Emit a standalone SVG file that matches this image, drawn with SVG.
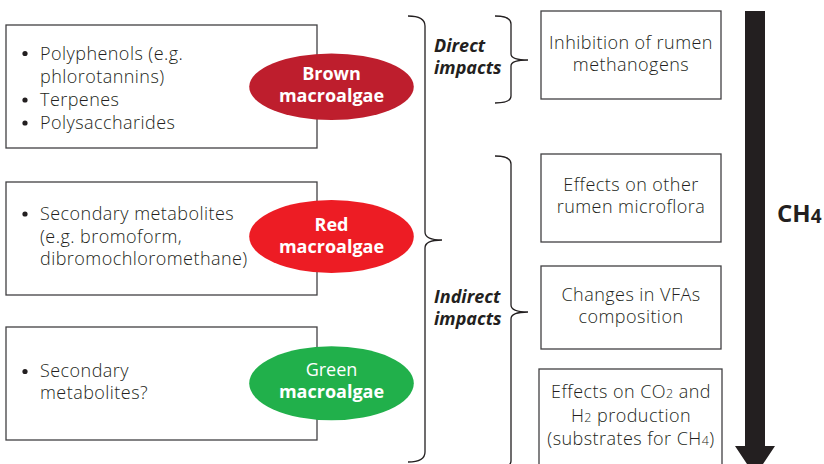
<svg xmlns="http://www.w3.org/2000/svg" width="824" height="464" viewBox="0 0 824 464">
<style>
.box{fill:#fff;stroke:#414042;stroke-width:1.3}
.t{font-family:"Open Sans","Liberation Sans",sans-serif;font-size:18px;font-weight:300;letter-spacing:0.45px;fill:#231f20}
.c{text-anchor:middle}
.w{font-family:"Open Sans","Liberation Sans",sans-serif;font-size:18px;fill:#fff;text-anchor:middle}
.b{font-weight:bold}
.bi{font-family:"Open Sans","Liberation Sans",sans-serif;font-size:18px;fill:#231f20;font-weight:bold;font-style:italic}
.br{fill:none;stroke:#231f20;stroke-width:1.3}
.dot{fill:#231f20}
.sub{font-size:12.5px}
</style>
<rect width="824" height="464" fill="#fff"/>
<g id="brown">
<rect class="box" x="6" y="25" width="311" height="123"/>
<circle class="dot" cx="25" cy="53.5" r="2.6"/>
<circle class="dot" cx="25" cy="100" r="2.6"/>
<circle class="dot" cx="25" cy="123" r="2.6"/>
<text class="t" x="40" y="60">Polyphenols (e.g.</text>
<text class="t" x="40" y="82.5">phlorotannins)</text>
<text class="t" x="40" y="106">Terpenes</text>
<text class="t" x="40" y="129">Polysaccharides</text>
<ellipse cx="331.5" cy="86.7" rx="82.3" ry="33.3" fill="#be1e2d"/>
<text class="w b" x="331.5" y="80">Brown</text>
<text class="w b" x="331.5" y="102">macroalgae</text>
</g>
<g id="red">
<rect class="box" x="6" y="182" width="311" height="113"/>
<circle class="dot" cx="25" cy="214" r="2.6"/>
<text class="t" x="40" y="220">Secondary metabolites</text>
<text class="t" x="40" y="242.5">(e.g. bromoform,</text>
<text class="t" x="40" y="265">dibromochloromethane)</text>
<ellipse cx="331.5" cy="236.5" rx="82.3" ry="36.5" fill="#ed1c24"/>
<text class="w b" x="331.5" y="230.7">Red</text>
<text class="w b" x="331.5" y="252.7">macroalgae</text>
</g>
<g id="green">
<rect class="box" x="6" y="327" width="311" height="113"/>
<circle class="dot" cx="25" cy="371.5" r="2.6"/>
<text class="t" x="40" y="376.5">Secondary</text>
<text class="t" x="40" y="399">metabolites?</text>
<ellipse cx="331.5" cy="383.3" rx="82.3" ry="37" fill="#21b04b"/>
<text class="w" x="331.5" y="376">Green</text>
<text class="w b" x="331.5" y="398">macroalgae</text>
</g>
<g id="connectors">
<path class="br" d="M408,16 Q425,16 425,26 L425,232 Q425,240 442,240 Q425,240 425,248 L425,452 Q425,462 408,462"/>
<path class="br" d="M495,16 Q511,16 511,24 L511,54 Q511,60 528,60 Q511,60 511,66 L511,96 Q511,103 495,103"/>
<path class="br" d="M495,156 Q511,156 511,164 L511,305 Q511,312 528,312 Q511,312 511,319 L511,461 Q511,468 495,468"/>
<path d="M745,11 L765,11 L765,446 L775,446 L755,476 L735,446 L745,446 Z" fill="#231f20"/>
</g>
<g id="direct">
<text class="bi" x="434" y="52">Direct</text>
<text class="bi" x="434" y="74">impacts</text>
</g>
<g id="indirect">
<text class="bi" x="434" y="302.5">Indirect</text>
<text class="bi" x="434" y="324.5">impacts</text>
</g>
<g id="inhibition">
<rect class="box" x="541" y="11" width="180" height="88"/>
<text class="t c" x="631" y="49">Inhibition of rumen</text>
<text class="t c" x="631" y="71">methanogens</text>
</g>
<g id="microflora">
<rect class="box" x="541" y="154" width="180" height="88"/>
<text class="t c" x="631" y="190.5">Effects on other</text>
<text class="t c" x="631" y="212.5">rumen microflora</text>
</g>
<g id="vfa">
<rect class="box" x="541" y="266" width="180" height="83"/>
<text class="t c" x="631" y="301">Changes in VFAs</text>
<text class="t c" x="631" y="323">composition</text>
</g>
<g id="co2">
<rect class="box" x="539" y="369" width="183" height="105"/>
<text class="t c" x="631" y="397.5">Effects on CO<tspan class="sub" dy="0.8">2</tspan><tspan dy="-0.8"> and</tspan></text>
<text class="t c" x="631" y="421.5">H<tspan class="sub" dy="0.5">2</tspan><tspan dy="-0.5"> production</tspan></text>
<text class="t c" x="631" y="444.5">(substrates for CH<tspan class="sub" dy="0.5">4</tspan><tspan dy="-0.5">)</tspan></text>
</g>
<g id="ch4">
<text class="b" x="777" y="222" style="font-family:'Open Sans','Liberation Sans',sans-serif;font-size:24px;fill:#231f20">CH<tspan style="font-size:19px" dy="1">4</tspan></text>
</g>
</svg>
